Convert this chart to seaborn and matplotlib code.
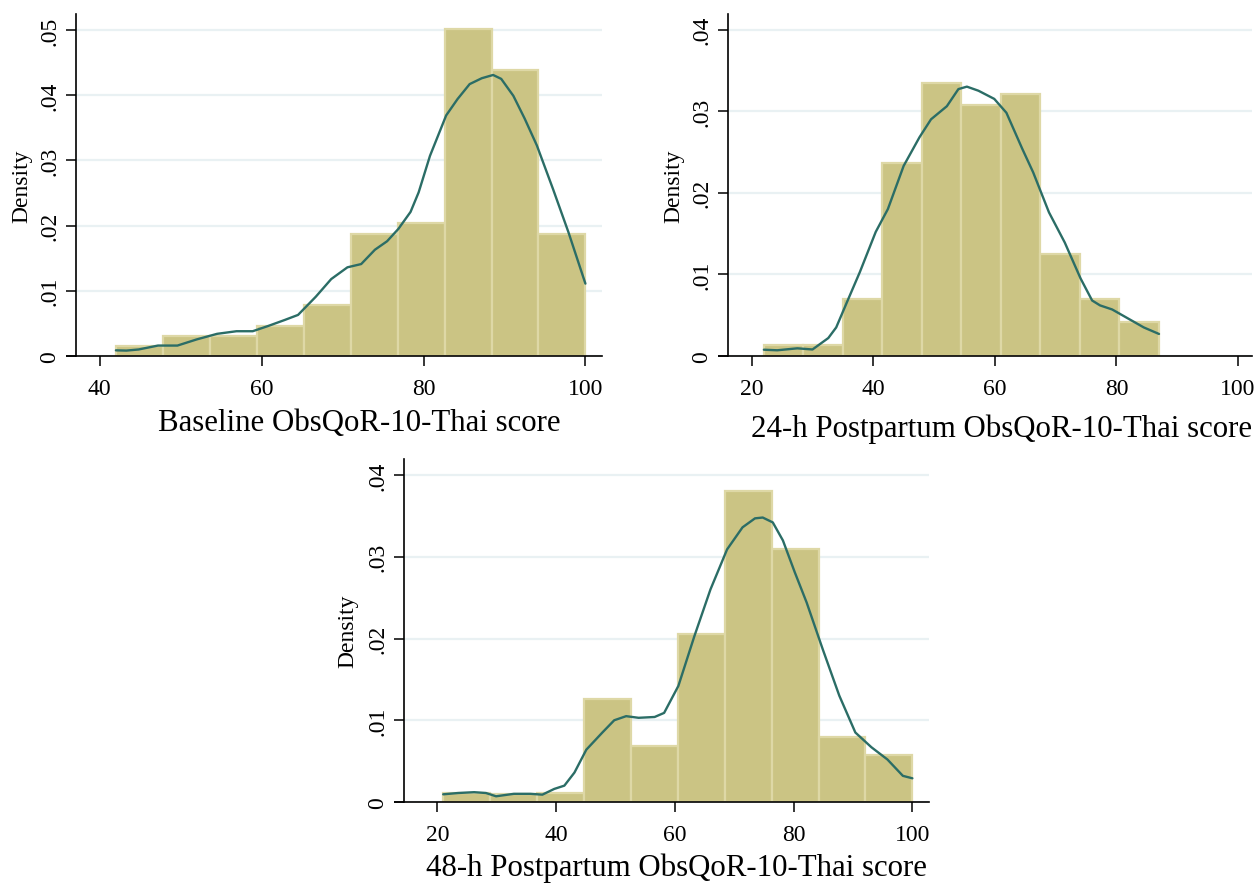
import matplotlib
matplotlib.use("Agg")
import matplotlib.pyplot as plt
import numpy as np
import pandas as pd
import seaborn as sns

# ============================================================
# DATA
# ============================================================

# --- Baseline ---
BASE_EDGES   = [42, 47.8, 53.6, 59.4, 65.2, 71, 76.8, 82.6, 88.4, 94.2, 100]
BASE_DENSITY = [0.00153, 0.00306, 0.00306, 0.0046, 0.00787, 0.01874, 0.0204, 0.0501, 0.0439, 0.01874]
BASE_KDE_X   = [42, 43.3, 44.8, 47.2, 49.6, 52, 54.5, 56.9, 58.9, 60.8, 62.8, 64.5, 66.7, 68.6,
                70.6, 72.3, 74, 75.5, 76.9, 78.4, 79.4, 80.8, 81.8, 82.8, 84.2, 85.7, 87.2,
                88.6, 89.6, 91.1, 92.5, 94, 96, 97.9, 100]
BASE_KDE_Y   = [0.00087, 0.00083, 0.001, 0.0016, 0.0016, 0.00255, 0.0034, 0.0038, 0.0038, 0.0046,
                0.0055, 0.0063, 0.0091, 0.0118, 0.0136, 0.0141, 0.0163, 0.0176, 0.0195, 0.0221,
                0.0251, 0.0307, 0.0338, 0.0369, 0.0394, 0.0417, 0.0426, 0.0431, 0.0425, 0.0399,
                0.0364, 0.0323, 0.0256, 0.019, 0.0111]

# --- 24-h postpartum ---
H24_EDGES   = [22, 28.5, 35, 41.5, 48, 54.5, 61, 67.5, 74, 80.5, 87]
H24_DENSITY = [0.0013, 0.0013, 0.00697, 0.0237, 0.0335, 0.0307, 0.0321, 0.0125, 0.00697, 0.00416]
H24_KDE_X   = [22, 24.2, 27.5, 30, 32.6, 33.9, 35.9, 37.8, 40.4, 42.4, 45, 47.6, 49.5, 52.1, 54,
               55.4, 57.3, 59.9, 61.9, 64.5, 66.3, 68.9, 71.5, 74.1, 76, 77.3, 79.3, 81.9, 84.5, 87]
H24_KDE_Y   = [0.00077, 0.0007, 0.00094, 0.0008, 0.0022, 0.0035, 0.007, 0.0103, 0.0152, 0.018,
               0.0233, 0.0268, 0.029, 0.0306, 0.0327, 0.033, 0.0325, 0.0315, 0.0298, 0.0254,
               0.0225, 0.0176, 0.0139, 0.0095, 0.0068, 0.0062, 0.0057, 0.0046, 0.0035, 0.0027]

# --- 48-h postpartum ---
H48_EDGES   = [21, 28.9, 36.8, 44.7, 52.6, 60.5, 68.4, 76.3, 84.2, 92.1, 100]
H48_DENSITY = [0.00106, 0.001, 0.00106, 0.01257, 0.00686, 0.0206, 0.038, 0.031, 0.008, 0.0057]
H48_KDE_X   = [21, 23.5, 26.2, 28.2, 29.9, 32.9, 35.7, 37.7, 39.7, 41.4, 43.1, 45.1, 47.8, 49.8,
               51.8, 53.9, 56.6, 58.2, 60.6, 63.3, 66, 68.8, 71.4, 73.5, 74.8, 76.5, 78.2, 80.2,
               82.2, 84.9, 87.7, 90.4, 93.1, 95.8, 98.4, 100]
H48_KDE_Y   = [0.00094, 0.0011, 0.0012, 0.0011, 0.0007, 0.001, 0.001, 0.0009, 0.0016, 0.002,
               0.0036, 0.0064, 0.0085, 0.01, 0.0105, 0.0103, 0.0104, 0.0109, 0.0142, 0.0203,
               0.026, 0.0309, 0.0336, 0.0347, 0.0348, 0.0342, 0.032, 0.0281, 0.0244, 0.0187,
               0.013, 0.0085, 0.0067, 0.0052, 0.0032, 0.0029]

XLABELS = ["Baseline ObsQoR-10-Thai score",
           "24-h Postpartum ObsQoR-10-Thai score",
           "48-h Postpartum ObsQoR-10-Thai score"]

# ============================================================
# STYLE
# ============================================================

W, H = 1257, 887
BAR_FILL  = "#CBC484"
BAR_EDGE  = "#DED8A6"
KDE_COLOR = "#2B6D66"
GRID      = "#E9F1F3"
LABEL_SIZE = 22.2

sns.set_style("white")
plt.rcParams["font.family"] = ["Liberation Serif", "DejaVu Serif"]
plt.rcParams["text.color"] = "black"
plt.rcParams["axes.labelcolor"] = "black"

# axes boxes in pixels: left, right, top, bottom
PANELS = [
    dict(box=(76, 602, 15, 357), xlim=(37.07, 102.05), ylim=(0, 0.05245),
         xticks=[40, 60, 80, 100], yticks=[0, .01, .02, .03, .04, .05],
         xlab=(0.538, -0.193), ylab=(-54, 0.5)),
    dict(box=(728, 1252, 15, 357), xlim=(16.1, 102.3), ylim=(0, 0.0419),
         xticks=[20, 40, 60, 80, 100], yticks=[0, .01, .02, .03, .04],
         xlab=(0.523, -0.21), ylab=(-54, 0.5)),
    dict(box=(404, 929, 460, 803), xlim=(14.4, 102.8), ylim=(0, 0.04196),
         xticks=[20, 40, 60, 80, 100], yticks=[0, .01, .02, .03, .04],
         xlab=(0.52, -0.19), ylab=(-56, 0.5)),
]

SERIES = [
    (BASE_EDGES, BASE_DENSITY, BASE_KDE_X, BASE_KDE_Y),
    (H24_EDGES, H24_DENSITY, H24_KDE_X, H24_KDE_Y),
    (H48_EDGES, H48_DENSITY, H48_KDE_X, H48_KDE_Y),
]


def ytick_text(v):
    return "0" if v == 0 else ("%.2f" % v).lstrip("0")


fig = plt.figure(figsize=(W / 100, H / 100), dpi=100)

for (edges, dens, kx, ky), p, xlab in zip(SERIES, PANELS, XLABELS):
    l, r, t, b = p["box"]
    ax = fig.add_axes([l / W, (H - b) / H, (r - l) / W, (b - t) / H])
    wpx = r - l

    centers = [(edges[i] + edges[i + 1]) / 2 for i in range(len(dens))]
    hist_df = pd.DataFrame({"score": centers, "density": dens})
    sns.histplot(data=hist_df, x="score", weights="density", bins=edges, stat="count",
                 color=BAR_FILL, edgecolor=BAR_EDGE, linewidth=1.6, alpha=1, ax=ax)
    sns.lineplot(x=kx, y=ky, color=KDE_COLOR, linewidth=1.7, ax=ax)

    ax.set_xlim(*p["xlim"])
    ax.set_ylim(*p["ylim"])
    ax.set_axisbelow(True)
    ax.yaxis.grid(True, color=GRID, linewidth=1.6)
    ax.xaxis.grid(False)

    for s in ["top", "right"]:
        ax.spines[s].set_visible(False)
    for s in ["left", "bottom"]:
        ax.spines[s].set_color("black")
        ax.spines[s].set_linewidth(1.2)
    # x axis line runs under the y ticks, Stata style
    ax.plot([-10 / wpx, 0], [0, 0], transform=ax.transAxes, clip_on=False,
            color="black", linewidth=1.2, solid_capstyle="butt")

    ax.set_xticks(p["xticks"])
    ax.set_yticks(p["yticks"])
    ax.set_yticklabels([ytick_text(v) for v in p["yticks"]], rotation=90, va="center")
    ax.tick_params(axis="both", direction="out", length=7.2, width=1.1, color="black",
                   labelsize=17, labelcolor="black")
    ax.tick_params(axis="x", pad=8.5)
    ax.tick_params(axis="y", pad=4)
    ax.tick_params(left=True, bottom=True)

    ax.set_xlabel(xlab, fontsize=LABEL_SIZE, va="center", color="black")
    ax.xaxis.set_label_coords(*p["xlab"])
    ax.set_ylabel("Density", fontsize=17, va="center", color="black")
    ax.yaxis.set_label_coords(p["ylab"][0] / wpx, p["ylab"][1])

fig.savefig("out.png", dpi=100)
